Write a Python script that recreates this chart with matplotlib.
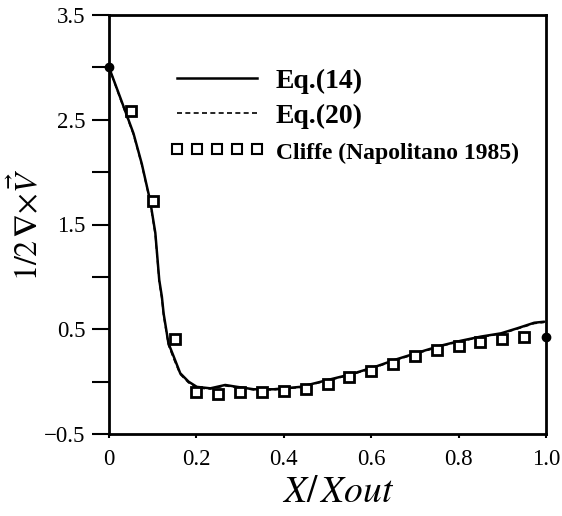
import matplotlib
matplotlib.use("Agg")
import matplotlib.pyplot as plt
from matplotlib.lines import Line2D

plt.rcParams['font.family'] = ['Liberation Serif', 'DejaVu Serif']
plt.rcParams['mathtext.fontset'] = 'stix'

# Eq.(14) curve
x_eq14 = [0.0, 0.025, 0.056, 0.075, 0.094, 0.106, 0.115, 0.121, 0.125, 0.136, 0.148, 0.163,
          0.182, 0.201, 0.232, 0.266, 0.293, 0.331, 0.377, 0.438, 0.5, 0.553, 0.606, 0.66,
          0.706, 0.759, 0.805, 0.851, 0.897, 0.935, 0.973, 0.996]
y_eq14 = [3.0, 2.72, 2.37, 2.08, 1.73, 1.42, 0.97, 0.81, 0.65, 0.366, 0.24, 0.08,
          0.0, -0.05, -0.064, -0.032, -0.05, -0.073, -0.073, -0.05, 0.015, 0.07, 0.137, 0.216,
          0.276, 0.343, 0.39, 0.43, 0.461, 0.51, 0.562, 0.572]
# Eq.(20) curve (nearly coincident)
x_eq20 = [0.0, 0.025, 0.056, 0.075, 0.094, 0.106, 0.115, 0.121, 0.125, 0.136, 0.148, 0.163,
          0.182, 0.201, 0.232, 0.266, 0.293, 0.331, 0.377, 0.438, 0.5, 0.553, 0.606, 0.66,
          0.706, 0.759, 0.805, 0.851, 0.897, 0.935, 0.973, 0.996]
y_eq20 = [3.0, 2.71, 2.36, 2.07, 1.72, 1.40, 0.95, 0.79, 0.63, 0.35, 0.22, 0.07,
          -0.01, -0.06, -0.07, -0.04, -0.055, -0.078, -0.078, -0.055, 0.01, 0.065, 0.132, 0.21,
          0.27, 0.338, 0.385, 0.425, 0.456, 0.505, 0.555, 0.566]
# Cliffe (Napolitano 1985)
x_cliffe = [0.05, 0.10, 0.15, 0.20, 0.25, 0.30, 0.35, 0.40, 0.45, 0.50, 0.55, 0.60,
            0.65, 0.70, 0.75, 0.80, 0.85, 0.90, 0.95]
y_cliffe = [2.58, 1.72, 0.41, -0.10, -0.12, -0.10, -0.10, -0.09, -0.07, -0.02, 0.04, 0.10,
            0.17, 0.24, 0.30, 0.34, 0.38, 0.41, 0.43]
# end points (filled)
x_ends = [0.0, 1.0]
y_ends = [3.0, 0.43]

x_ticks = [0, 0.2, 0.4, 0.6, 0.8, 1.0]
x_ticklabels = ['0', '0.2', '0.4', '0.6', '0.8', '1.0']
y_major = [-0.5, 0.5, 1.5, 2.5, 3.5]
y_labels = ['\u22120.5', '0.5', '1.5', '2.5', '3.5']
y_minor = [0.0, 1.0, 2.0, 3.0]

fig = plt.figure(figsize=(5.62, 5.16), dpi=100)
ax = fig.add_axes([109/562, 1-434/516, 437/562, 419/516])

ax.plot(x_eq14, y_eq14, color='black', lw=1.8, solid_capstyle='round')
ax.plot(x_eq20, y_eq20, color='black', lw=1.2, ls=(0, (3, 2)))
ax.plot(x_cliffe, y_cliffe, ls='none', marker='s', ms=6.5, mfc='white', mec='black', mew=2.0)
ax.plot(x_ends, y_ends, ls='none', marker='o', ms=6, color='black', clip_on=False, zorder=5)

ax.set_xlim(0, 1.0)
ax.set_ylim(-0.5, 3.5)
ax.set_xticks(x_ticks)
ax.set_xticklabels(x_ticklabels)
ax.set_yticks(y_major)
ax.set_yticklabels(y_labels)
ax.set_yticks(y_minor, minor=True)
ax.tick_params(axis='y', which='both', direction='out', length=12, width=1.5, labelsize=16.5, pad=5)
ax.tick_params(axis='x', which='both', direction='out', length=3, width=1.5, labelsize=16.5, pad=8)
for s in ax.spines.values():
    s.set_linewidth(2.0)

ax.set_xlabel(r'$X/\,Xout$', fontsize=27, labelpad=4)
ax.xaxis.label.set_x(0.525)
ax.set_ylabel(r'$1/2\,\mathbf{\nabla}\!\times\!\vec{V}$', fontsize=23)
ax.yaxis.set_label_coords(-0.145, 0.5)

handles = [
    Line2D([], [], color='black', lw=1.8),
    Line2D([], [], color='black', lw=1.2, ls=(0, (3, 2))),
    Line2D([], [], ls='none', marker='s', ms=6.5, mfc='white', mec='black', mew=1.5),
]
labels = ['Eq.(14)', 'Eq.(20)', 'Cliffe (Napolitano 1985)']
leg = ax.legend(handles, labels, loc='upper left', bbox_to_anchor=(0.137, 0.873),
                frameon=False, numpoints=5, handlelength=3.48, handletextpad=0.36,
                borderpad=0, borderaxespad=0, labelspacing=0.36,
                prop={'family': 'Liberation Serif', 'weight': 'bold', 'size': 20})
leg.get_texts()[2].set_fontsize(17)

fig.savefig('out.png', dpi=100)
